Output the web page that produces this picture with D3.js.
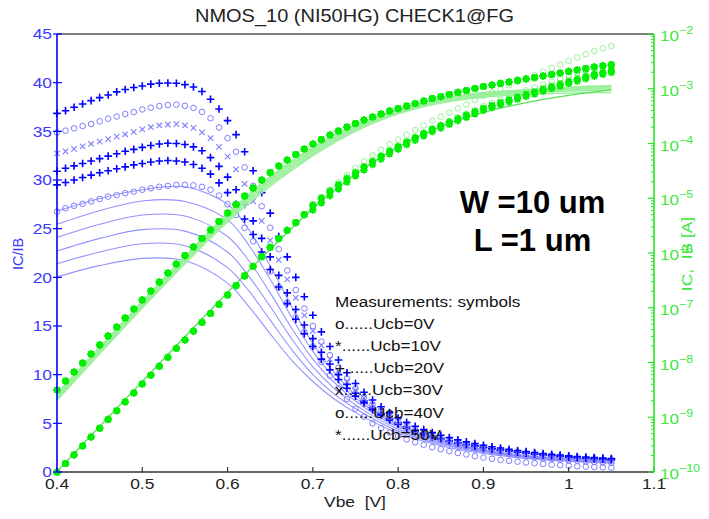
<!DOCTYPE html>
<html>
<head>
<meta charset="utf-8">
<script src="https://cdn.jsdelivr.net/npm/d3@7"></script>
<style>
  body { margin: 0; background: #fff; }
  text { font-family: "Liberation Sans", Arial, Helvetica, sans-serif; }
</style>
</head>
<body>
<svg id="chart" width="709" height="519"></svg>
<script>
// ---- Measured sweep: base-emitter voltage [V] ----
const vbe = [
  0.40, 0.41, 0.42, 0.43, 0.44, 0.45, 0.46, 0.47, 0.48, 0.49,
  0.50, 0.51, 0.52, 0.53, 0.54, 0.55, 0.56, 0.57, 0.58, 0.59,
  0.60, 0.61, 0.62, 0.63, 0.64, 0.65, 0.66, 0.67, 0.68, 0.69,
  0.70, 0.71, 0.72, 0.73, 0.74, 0.75, 0.76, 0.77, 0.78, 0.79,
  0.80, 0.81, 0.82, 0.83, 0.84, 0.85, 0.86, 0.87, 0.88, 0.89,
  0.90, 0.91, 0.92, 0.93, 0.94, 0.95, 0.96, 0.97, 0.98, 0.99,
  1.00, 1.01, 1.02, 1.03, 1.04, 1.05
];

// Measured collector current IC [A]
const icMeasured = [
  3.15e-9, 4.59e-9, 6.70e-9, 9.79e-9, 1.43e-8, 2.09e-8, 3.05e-8, 4.45e-8, 6.50e-8, 9.48e-8,
  1.39e-7, 2.02e-7, 2.95e-7, 4.31e-7, 6.30e-7, 8.99e-7, 1.29e-6, 1.84e-6, 2.63e-6, 3.76e-6,
  5.38e-6, 7.69e-6, 1.10e-5, 1.54e-5, 2.15e-5, 2.95e-5, 3.88e-5, 5.00e-5, 6.30e-5, 7.94e-5,
  9.79e-5, 1.18e-4, 1.43e-4, 1.69e-4, 2.00e-4, 2.32e-4, 2.69e-4, 3.05e-4, 3.46e-4, 3.93e-4,
  4.35e-4, 4.84e-4, 5.38e-4, 5.97e-4, 6.64e-4, 7.21e-4, 7.85e-4, 8.55e-4, 9.29e-4, 1.01e-3,
  1.10e-3, 1.17e-3, 1.25e-3, 1.33e-3, 1.42e-3, 1.51e-3, 1.60e-3, 1.71e-3, 1.82e-3, 1.94e-3,
  2.07e-3, 2.20e-3, 2.34e-3, 2.50e-3, 2.61e-3, 2.72e-3
];

// Measured base current IB [A], identical for all Ucb up to Vbe = 0.69 V
const ibLowVbe = [
  9.86e-11, 1.43e-10, 2.06e-10, 2.99e-10, 4.34e-10, 6.29e-10, 9.11e-10, 1.32e-9, 1.91e-9, 2.78e-9,
  4.05e-9, 5.85e-9, 8.51e-9, 1.24e-8, 1.81e-8, 2.59e-8, 3.74e-8, 5.40e-8, 7.86e-8, 1.15e-7,
  1.71e-7, 2.54e-7, 3.83e-7, 5.70e-7, 8.57e-7, 1.27e-6, 1.83e-6, 2.59e-6, 3.60e-6, 5.04e-6
];

// Measured current gain IC/IB for each collector-base voltage
const betaUcb0 = [
  26.75, 27.10, 27.35, 27.55, 27.80, 28.05, 28.30, 28.45, 28.65, 28.80,
  29.00, 29.15, 29.30, 29.40, 29.50, 29.50, 29.45, 29.30, 29.00, 28.40,
  27.50, 26.40, 25.10, 23.70, 22.20, 20.60, 19.00, 17.40, 15.90, 14.40,
  12.90, 11.30, 9.90, 8.60, 7.50, 6.50, 5.70, 5.00, 4.50, 4.05,
  3.70, 3.35, 3.05, 2.80, 2.55, 2.35, 2.15, 1.95, 1.80, 1.62,
  1.48, 1.36, 1.25, 1.15, 1.06, 0.98, 0.90, 0.83, 0.76, 0.70,
  0.64, 0.59, 0.55, 0.51, 0.48, 0.45
];
const betaUcb10 = [
  29.50, 29.75, 30.00, 30.25, 30.50, 30.75, 30.95, 31.15, 31.35, 31.55,
  31.70, 31.85, 31.95, 32.00, 31.95, 31.85, 31.60, 31.20, 30.60, 29.70,
  28.70, 27.50, 26.00, 24.40, 22.60, 20.80, 19.00, 17.30, 15.70, 14.20,
  12.90, 11.60, 10.50, 9.50, 8.60, 7.80, 7.10, 6.40, 5.85, 5.35,
  4.90, 4.50, 4.15, 3.85, 3.60, 3.37, 3.16, 2.97, 2.80, 2.64,
  2.50, 2.37, 2.25, 2.14, 2.04, 1.95, 1.86, 1.78, 1.70, 1.63,
  1.56, 1.50, 1.44, 1.39, 1.34, 1.30
];
const betaUcb20 = [
  30.90, 31.20, 31.45, 31.70, 31.95, 32.20, 32.45, 32.70, 32.95, 33.15,
  33.35, 33.55, 33.70, 33.77, 33.75, 33.65, 33.40, 33.00, 32.30, 31.40,
  30.30, 29.00, 27.50, 25.80, 24.00, 22.10, 20.20, 18.40, 16.70, 15.10,
  13.70, 12.30, 11.10, 10.00, 9.00, 8.10, 7.30, 6.60, 6.00, 5.50,
  5.05, 4.65, 4.30, 3.98, 3.70, 3.45, 3.23, 3.03, 2.85, 2.68,
  2.53, 2.39, 2.26, 2.14, 2.03, 1.93, 1.84, 1.75, 1.67, 1.60,
  1.53, 1.47, 1.41, 1.36, 1.31, 1.26
];
const betaUcb30 = [
  32.74, 32.95, 33.20, 33.45, 33.70, 33.95, 34.20, 34.45, 34.70, 34.95,
  35.20, 35.42, 35.60, 35.70, 35.75, 35.60, 35.35, 34.90, 34.30, 33.40,
  32.40, 31.10, 29.60, 27.80, 25.80, 23.80, 21.80, 19.80, 17.90, 16.10,
  14.50, 13.00, 11.60, 10.40, 9.30, 8.40, 7.60, 6.90, 6.30, 5.75,
  5.25, 4.80, 4.40, 4.05, 3.75, 3.48, 3.24, 3.02, 2.82, 2.64,
  2.47, 2.32, 2.18, 2.05, 1.93, 1.82, 1.72, 1.63, 1.55, 1.47,
  1.40, 1.34, 1.28, 1.23, 1.18, 1.14
];
const betaUcb40 = [
  34.88, 35.07, 35.31, 35.55, 35.75, 36.03, 36.30, 36.52, 36.78, 36.98,
  37.25, 37.43, 37.60, 37.70, 37.75, 37.62, 37.40, 37.00, 36.34, 35.40,
  34.30, 32.90, 31.30, 29.40, 27.30, 25.10, 22.90, 20.70, 18.70, 16.80,
  15.00, 13.40, 12.00, 10.70, 9.60, 8.60, 7.70, 6.90, 6.25, 5.70,
  5.20, 4.75, 4.33, 3.96, 3.63, 3.34, 3.08, 2.85, 2.64, 2.45,
  2.28, 2.12, 1.98, 1.85, 1.73, 1.62, 1.52, 1.43, 1.35, 1.27,
  1.20, 1.14, 1.08, 1.03, 0.98, 0.94
];
const betaUcb50 = [
  36.85, 37.12, 37.47, 37.81, 38.15, 38.46, 38.73, 39.05, 39.30, 39.50,
  39.66, 39.85, 39.94, 39.97, 39.94, 39.80, 39.55, 39.10, 38.30, 37.30,
  36.10, 34.66, 32.90, 30.95, 28.70, 26.60, 24.20, 22.10, 20.00, 18.00,
  16.10, 14.40, 12.90, 11.50, 10.20, 9.10, 8.20, 7.40, 6.70, 6.10,
  5.55, 5.10, 4.70, 4.35, 4.05, 3.78, 3.53, 3.30, 3.10, 2.92,
  2.75, 2.60, 2.46, 2.33, 2.21, 2.10, 2.00, 1.90, 1.82, 1.74,
  1.66, 1.60, 1.54, 1.48, 1.43, 1.38
];

// ---- Simulation (model) ----
const simVbe = [0.40, 0.45, 0.50, 0.55, 0.60, 0.625, 0.65, 0.675, 0.70, 0.725, 0.75, 0.80, 0.85, 0.90, 0.95, 1.00, 1.05];
// Simulated base current IB [A]
const simIb = [1.02e-10, 6.8e-10, 4.5e-9, 2.95e-8, 1.9e-7, 4.8e-7, 1.17e-6, 2.8e-6, 6.5e-6, 1.38e-5, 2.75e-5, 8.7e-5, 2.04e-4, 3.7e-4, 5.6e-4, 7.6e-4, 9.5e-4];
// Simulated IC/IB curves
const simBeta1 = [20.05, 21.2, 21.95, 21.7, 19.4, 17.0, 14.2, 11.5, 9.3, 7.5, 6.1, 4.0, 2.7, 1.9, 1.4, 1.1, 0.9];
const simBeta2 = [21.4, 22.6, 23.45, 23.25, 21.0, 18.6, 15.6, 12.6, 10.0, 8.0, 6.5, 4.2, 2.85, 2.0, 1.5, 1.2, 1.0];
const simBeta3 = [22.7, 24.0, 24.9, 24.75, 22.6, 20.1, 17.0, 13.7, 10.8, 8.6, 6.9, 4.4, 2.95, 2.1, 1.55, 1.25, 1.05];
const simBeta4 = [24.1, 25.45, 26.4, 26.3, 24.2, 21.7, 18.4, 14.8, 11.6, 9.2, 7.3, 4.6, 3.05, 2.15, 1.6, 1.3, 1.1];
const simBeta5 = [25.45, 26.85, 27.85, 27.8, 25.9, 23.3, 19.8, 15.9, 12.4, 9.7, 7.6, 4.75, 3.15, 2.2, 1.65, 1.35, 1.15];
const simBeta6 = [26.8, 28.1, 29.0, 29.3, 27.5, 24.9, 21.2, 17.0, 13.2, 10.2, 7.9, 4.9, 3.25, 2.3, 1.7, 1.4, 1.2];

// ---- Axis ticks and legend ----
const xTicks = [0.4, 0.5, 0.6, 0.7, 0.8, 0.9, 1.0, 1.1];
const xTickLabels = ["0.4", "0.5", "0.6", "0.7", "0.8", "0.9", "1", "1.1"];
const gainTicks = [0, 5, 10, 15, 20, 25, 30, 35, 40, 45];
const currentExponents = [-2, -3, -4, -5, -6, -7, -8, -9, -10];
const ucbValues = [0, 10, 20, 30, 40, 50];
const legendSymbols = ["o", "*", "+", "x", "o", "*"];

// ---- Drawing ----
const measuredBeta = [betaUcb0, betaUcb10, betaUcb20, betaUcb30, betaUcb40, betaUcb50];
const simBeta = [simBeta1, simBeta2, simBeta3, simBeta4, simBeta5, simBeta6];

const blueMarker = ["circle", "plus", "plus", "cross", "circle", "plus"];
const blueColor = ["#7d7dff", "#0000ff", "#0000ff", "#7d7dff", "#7d7dff", "#0000ff"];
const greenMarker = ["circle", "star", "star", "cross", "circle", "star"];
const greenColor = ["#8cf08c", "#00ee00", "#00ee00", "#66ee66", "#8cf08c", "#00ee00"];

const svg = d3.select("#chart");
const L = 57, R = 654, T = 34, B = 472;

const x = d3.scaleLinear().domain([0.4, 1.1]).range([L, R]);
const yGain = d3.scaleLinear().domain([0, 45]).range([B, T]);
const yCur = d3.scaleLog().domain([1e-10, 1e-2]).range([B, T]);

function markerPath(type, r) {
  const q = r * 0.72;
  const plus = `M${-r},0H${r}M0,${-r}V${r}`;
  const cross = `M${-q},${-q}L${q},${q}M${-q},${q}L${q},${-q}`;
  if (type === "plus") return plus;
  if (type === "cross") return cross;
  if (type === "star") return plus + cross;
  return null;
}

function drawMarkers(g, pts, type, color, opts) {
  const sel = g.append("g");
  if (type === "circle") {
    sel.selectAll("circle").data(pts).join("circle")
      .attr("cx", d => d[0]).attr("cy", d => d[1])
      .attr("r", opts.cr)
      .attr("fill", "none").attr("stroke", color).attr("stroke-width", opts.cw);
  } else {
    const d = markerPath(type, opts.r);
    sel.selectAll("path").data(pts).join("path")
      .attr("transform", p => `translate(${p[0]},${p[1]})`)
      .attr("d", d)
      .attr("fill", "none").attr("stroke", color)
      .attr("stroke-width", type === "cross" ? opts.xw : opts.w);
  }
}

// Horizontally stretched label helper
function label(g, px, py, str, o) {
  return g.append("text")
    .attr("transform", `translate(${px},${py}) rotate(${o.rotate || 0}) scale(${o.sx || 1},1)`)
    .attr("text-anchor", o.anchor || "start")
    .attr("font-size", o.size)
    .attr("fill", o.fill || "#111")
    .attr("font-weight", o.weight || "normal")
    .style("white-space", "pre")
    .text(str);
}

const plot = svg.append("g");
const curve = d3.curveCatmullRom.alpha(0.5);

// Simulated IC/IB lines
const gainLine = d3.line().x((d, i) => x(simVbe[i])).y(d => yGain(d)).curve(curve);
plot.append("g").selectAll("path").data(simBeta).join("path")
  .attr("d", gainLine)
  .attr("fill", "none").attr("stroke", "#9393ff").attr("stroke-width", 1.1);

// Measured IC/IB symbols
measuredBeta.forEach((beta, k) => {
  const pts = beta.map((b, i) => [x(vbe[i]), yGain(b)]);
  const dark = blueColor[k] === "#0000ff";
  drawMarkers(plot, pts, blueMarker[k], blueColor[k], { r: 3.8, w: dark ? 1.6 : 1.1, xw: 1.1, cr: 2.8, cw: 1.0 });
});

// Simulated IC (one line per Ucb) and IB
const curLine = d3.line().x(d => x(d[0])).y(d => yCur(d[1])).curve(curve);
simBeta.forEach(beta => {
  const pts = beta.map((b, i) => [simVbe[i], simIb[i] * b]);
  plot.append("path").attr("d", curLine(pts))
    .attr("fill", "none").attr("stroke", "#9df09d").attr("stroke-width", 1.6);
});
plot.append("path").attr("d", curLine(simIb.map((v, i) => [simVbe[i], v])))
  .attr("fill", "none").attr("stroke", "#55e055").attr("stroke-width", 1.3);

// Measured IC and IB symbols (circles first, so the stars stay on top)
const greenOrder = [0, 4, 3, 1, 2, 5];
greenOrder.forEach(k => {
  const beta = measuredBeta[k];
  const icPts = icMeasured.map((c, i) => [x(vbe[i]), yCur(c)]);
  const ibPts = icMeasured.map((c, i) => [x(vbe[i]),
    yCur(i < ibLowVbe.length ? ibLowVbe[i] : c / beta[i])]);
  const opts = { r: 3.6, w: 1.8, xw: 1.2, cr: 2.8, cw: 0.9 };
  drawMarkers(plot, icPts, greenMarker[k], greenColor[k], opts);
  drawMarkers(plot, ibPts, greenMarker[k], greenColor[k], opts);
});

// ---- Axes ----
const axes = svg.append("g");
axes.append("line").attr("x1", L).attr("x2", R).attr("y1", T).attr("y2", T)
  .attr("stroke", "#555").attr("stroke-width", 1.6);
axes.append("line").attr("x1", L).attr("x2", R).attr("y1", B).attr("y2", B)
  .attr("stroke", "#333").attr("stroke-width", 1.3);
axes.selectAll(".xt").data(xTicks).join("line")
  .attr("x1", d => x(d)).attr("x2", d => x(d)).attr("y1", B).attr("y2", B - 5)
  .attr("stroke", "#333").attr("stroke-width", 1.2);
xTicks.forEach((t, i) => label(axes, x(t), 489, xTickLabels[i], { size: 14.5, anchor: "middle", sx: 1.2, fill: "#222" }));
label(axes, 355, 507, "Vbe\u00a0\u00a0[V]", { size: 14.5, anchor: "middle", sx: 1.2, fill: "#222" });

// left axis (IC/IB)
axes.append("line").attr("x1", L).attr("x2", L).attr("y1", T).attr("y2", B)
  .attr("stroke", "#0000ff").attr("stroke-width", 1.6);
axes.selectAll(".yt").data(gainTicks).join("line")
  .attr("x1", L - 4).attr("x2", L + 5).attr("y1", d => yGain(d)).attr("y2", d => yGain(d))
  .attr("stroke", "#0000ff").attr("stroke-width", 1.2);
gainTicks.forEach(t => label(axes, 52, yGain(t) + 5.2, String(t), { size: 14.5, anchor: "end", sx: 1.2, fill: "#3b3bff" }));
label(axes, 23, 254, "IC/IB", { size: 14.5, anchor: "middle", rotate: -90, sx: 1.0, fill: "#3b3bff" });

// right axis (IC, IB)
axes.append("line").attr("x1", R).attr("x2", R).attr("y1", T).attr("y2", B)
  .attr("stroke", "#22e822").attr("stroke-width", 1.6);
const minor = [];
for (let e = -10; e < -2; e++) for (let m = 2; m <= 9; m++) minor.push(m * Math.pow(10, e));
axes.append("g").selectAll("line").data(minor).join("line")
  .attr("x1", R - 3).attr("x2", R).attr("y1", d => yCur(d)).attr("y2", d => yCur(d))
  .attr("stroke", "#22e822").attr("stroke-width", 1);
currentExponents.forEach(e => {
  const yy = yCur(Math.pow(10, e));
  axes.append("line").attr("x1", R - 6).attr("x2", R).attr("y1", yy).attr("y2", yy)
    .attr("stroke", "#22e822").attr("stroke-width", 1.2);
  const t = axes.append("text")
    .attr("transform", `translate(660,${yy + 7}) scale(1.18,1)`)
    .attr("font-size", 14.5).attr("fill", "#3ee83e");
  t.append("tspan").text("10");
  t.append("tspan").attr("dy", -7).attr("font-size", 10.5).text("\u2212" + Math.abs(e));
});
label(axes, 692, 254, "IC,\u00a0\u00a0IB [A]", { size: 14.5, anchor: "middle", rotate: -90, sx: 1.2, fill: "#3ee83e" });

// ---- Title ----
svg.append("text").attr("x", 354.5).attr("y", 22).attr("text-anchor", "middle")
  .attr("font-size", 17.5).attr("fill", "#222")
  .attr("textLength", 319).attr("lengthAdjust", "spacingAndGlyphs")
  .text("NMOS_10 (NI50HG) CHECK1@FG");

// ---- Device geometry ----
label(svg, 532.5, 213, "W =10 um", { size: 31, anchor: "middle", weight: "bold", fill: "#000" });
label(svg, 532.5, 251, "L =1 um", { size: 31, anchor: "middle", weight: "bold", fill: "#000" });

// ---- Legend ----
const legendRows = ["Measurements: symbols"].concat(
  ucbValues.map((u, i) => `${legendSymbols[i]}......Ucb=${u}V`));
legendRows.forEach((s, i) => label(svg, 335, 307 + i * 22.1, s, { size: 14.5, sx: 1.18, fill: "#111" }));
</script>
</body>
</html>
